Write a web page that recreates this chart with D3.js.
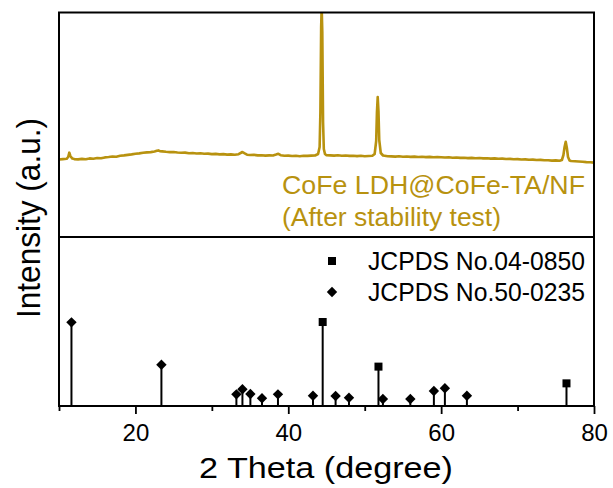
<!DOCTYPE html>
<html>
<head>
<meta charset="utf-8">
<script src="https://cdn.jsdelivr.net/npm/d3@7/dist/d3.min.js"></script>
<style>
  html, body { margin: 0; padding: 0; background: #fff; }
  svg { display: block; font-family: "Liberation Sans", Arial, sans-serif; }
</style>
</head>
<body>
<svg id="chart" width="613" height="488"></svg>
<script>
// Measured XRD pattern (2θ in degrees, intensity in counts)
const twoTheta = [
  10.0,10.5,11.0,11.2,11.35,11.5,11.75,12.0,12.5,13.0,13.5,14.0,14.5,15.0,15.5,16.0,16.5,17.0,17.5,18.0,
  18.5,19.0,19.5,20.0,20.5,21.0,21.5,22.0,22.5,22.8,23.0,23.2,23.5,24.0,24.5,25.0,25.5,26.0,26.5,27.0,
  27.5,28.0,28.5,29.0,29.5,30.0,30.5,31.0,31.5,32.0,32.5,33.0,33.5,34.0,34.3,34.6,35.0,35.5,36.0,36.5,
  37.0,37.5,38.0,38.4,38.7,39.0,39.5,40.0,40.5,41.0,41.5,42.0,42.5,43.0,43.5,43.9,44.1,44.2,44.3,44.37,
  44.45,44.55,44.65,44.8,45.0,45.5,46.0,46.5,47.0,47.5,48.0,48.5,49.0,49.5,50.0,50.5,51.0,51.3,51.5,51.6,
  51.7,51.8,51.9,52.1,52.4,53.0,53.5,54.0,54.5,55.0,55.5,56.0,56.5,57.0,57.5,58.0,58.5,59.0,59.5,60.0,
  60.5,61.0,61.5,62.0,62.5,63.0,63.5,64.0,64.5,65.0,65.5,66.0,66.5,67.0,67.5,68.0,68.5,69.0,69.5,70.0,
  70.5,71.0,71.5,72.0,72.5,73.0,73.5,74.0,74.5,75.0,75.5,75.8,76.0,76.15,76.3,76.45,76.6,76.8,77.0,77.5,
  78.0,78.5,79.0,79.5,80.0
];
const intensity = [
  775,779,782,800,843,808,784,779,776,781,778,786,783,790,788,796,800,805,803,812,
  816,821,826,833,836,842,846,849,855,862,866,858,856,852,849,850,845,842,844,838,
  840,835,837,832,834,829,831,826,829,824,826,822,828,850,836,823,820,822,816,818,
  814,816,815,824,832,818,812,814,810,812,808,813,811,814,815,830,900,1250,2100,2300,
  2050,1150,880,830,818,816,814,817,813,815,811,813,809,812,808,810,812,830,960,1250,
  1400,1260,970,840,815,808,806,804,807,803,805,801,804,800,802,799,801,797,799,798,
  795,797,793,795,791,793,789,791,788,790,786,788,784,786,782,784,780,781,777,779,
  775,776,772,774,770,771,767,768,764,766,762,770,820,900,953,890,800,765,760,758,
  755,752,749,747,744
];

// Reference pattern JCPDS No.04-0850 (squares)
const refSquarePos = [44.5, 51.8, 76.4];
const refSquareInt = [49.7, 23.3, 13.4];

// Reference pattern JCPDS No.50-0235 (diamonds)
const refDiamondPos = [11.63, 23.40, 33.21, 34.0, 35.04, 36.56, 38.65, 43.23, 46.19, 47.94, 52.38, 55.97, 59.05, 60.49, 63.37];
const refDiamondInt = [49.5, 24.4, 6.9, 9.9, 7.1, 4.6, 6.9, 6.1, 5.9, 4.9, 4.1, 4.1, 8.9, 10.5, 6.1];

const majorTicks = [20, 40, 60, 80];
const minorTicks = [10, 30, 50, 70];

const sampleLabel = ["CoFe LDH@CoFe-TA/NF", "(After stability test)"];
const legendLabels = ["JCPDS No.04-0850", "JCPDS No.50-0235"];
const xTitle = "2 Theta (degree)";
const yTitle = "Intensity (a.u.)";

const gold = "#B8920F";

const svg = d3.select("#chart");

const plotL = 59, plotR = 594, plotT = 12.5, plotMid = 237, plotB = 406;

const x = d3.scaleLinear().domain([10, 80]).range([plotL, plotR]);
const yTop = d3.scaleLinear().domain([0, 2245]).range([plotMid, plotT]);
const yBot = d3.scaleLinear().domain([0, 100]).range([plotB, plotMid]);

// clip for the measured curve
svg.append("defs").append("clipPath").attr("id", "topClip")
  .append("rect").attr("x", plotL).attr("y", plotT).attr("width", plotR - plotL).attr("height", plotMid - plotT);

// measured pattern
const pattern = twoTheta.map((t, i) => [t, intensity[i]]);
svg.append("path")
  .datum(pattern)
  .attr("clip-path", "url(#topClip)")
  .attr("fill", "none")
  .attr("stroke", gold)
  .attr("stroke-width", 2.6)
  .attr("stroke-linejoin", "round")
  .attr("d", d3.line().x(d => x(d[0])).y(d => yTop(d[1])));

// sample annotation
svg.append("text").attr("x", 282).attr("y", 194)
  .attr("font-size", 26.5).attr("fill", gold)
  .attr("textLength", 303).attr("lengthAdjust", "spacingAndGlyphs")
  .text(sampleLabel[0]);
svg.append("text").attr("x", 282).attr("y", 226)
  .attr("font-size", 26.5).attr("fill", gold)
  .attr("textLength", 219).attr("lengthAdjust", "spacingAndGlyphs")
  .text(sampleLabel[1]);

// reference sticks
const squares = refSquarePos.map((p, i) => ({ p, v: refSquareInt[i] }));
const diamonds = refDiamondPos.map((p, i) => ({ p, v: refDiamondInt[i] }));

const stems = svg.append("g").attr("stroke", "#000").attr("stroke-width", 2);
stems.selectAll("line.d").data(diamonds).join("line")
  .attr("x1", d => x(d.p)).attr("x2", d => x(d.p))
  .attr("y1", yBot(0)).attr("y2", d => yBot(d.v));
stems.selectAll("line.s").data(squares).join("line")
  .attr("x1", d => x(d.p)).attr("x2", d => x(d.p))
  .attr("y1", yBot(0)).attr("y2", d => yBot(d.v));

const diamondPath = r => `M0,${-r}L${r},0L0,${r}L${-r},0Z`;
svg.append("g").selectAll("path").data(diamonds).join("path")
  .attr("transform", d => `translate(${x(d.p)},${yBot(d.v)})`)
  .attr("d", diamondPath(5.2)).attr("fill", "#000");
svg.append("g").selectAll("rect").data(squares).join("rect")
  .attr("x", d => x(d.p) - 4).attr("y", d => yBot(d.v) - 4)
  .attr("width", 8).attr("height", 8).attr("fill", "#000");

// legend
const lg = svg.append("g");
lg.append("rect").attr("x", 328).attr("y", 257).attr("width", 8).attr("height", 8).attr("fill", "#000");
lg.append("path").attr("transform", "translate(332,292)").attr("d", diamondPath(5.2)).attr("fill", "#000");
legendLabels.forEach((t, i) => {
  lg.append("text").attr("x", 368).attr("y", 270 + i * 31)
    .attr("font-size", 25).attr("fill", "#000")
    .attr("textLength", 217).attr("lengthAdjust", "spacingAndGlyphs")
    .text(t);
});

// frame and panel divider
svg.append("rect").attr("x", plotL).attr("y", plotT).attr("width", plotR - plotL).attr("height", plotB - plotT)
  .attr("fill", "none").attr("stroke", "#000").attr("stroke-width", 2);
svg.append("line").attr("x1", plotL).attr("x2", plotR).attr("y1", plotMid).attr("y2", plotMid)
  .attr("stroke", "#000").attr("stroke-width", 2);

// x axis
const axMajor = svg.append("g").attr("transform", `translate(0,${plotB})`)
  .call(d3.axisBottom(x).tickValues(majorTicks).tickSize(8).tickPadding(8).tickFormat(d3.format("d")));
const axMinor = svg.append("g").attr("transform", `translate(0,${plotB})`)
  .call(d3.axisBottom(x).tickValues(minorTicks).tickSize(5).tickFormat(""));
[axMajor, axMinor].forEach(g => {
  g.select(".domain").remove();
  g.selectAll(".tick line").attr("stroke", "#000").attr("stroke-width", 1.8);
});
axMajor.selectAll(".tick text")
  .attr("font-size", 24).attr("fill", "#000")
  .attr("font-family", "'Liberation Sans', Arial, sans-serif")
  .attr("dy", null).attr("y", 35);

// axis titles
svg.append("text").attr("x", 326).attr("y", 478)
  .attr("text-anchor", "middle").attr("font-size", 30).attr("fill", "#000")
  .attr("textLength", 254).attr("lengthAdjust", "spacingAndGlyphs")
  .text(xTitle);
svg.append("text").attr("transform", "translate(40,218) rotate(-90)")
  .attr("text-anchor", "middle").attr("font-size", 33).attr("fill", "#000")
  .attr("textLength", 200).attr("lengthAdjust", "spacingAndGlyphs")
  .text(yTitle);
</script>
</body>
</html>
